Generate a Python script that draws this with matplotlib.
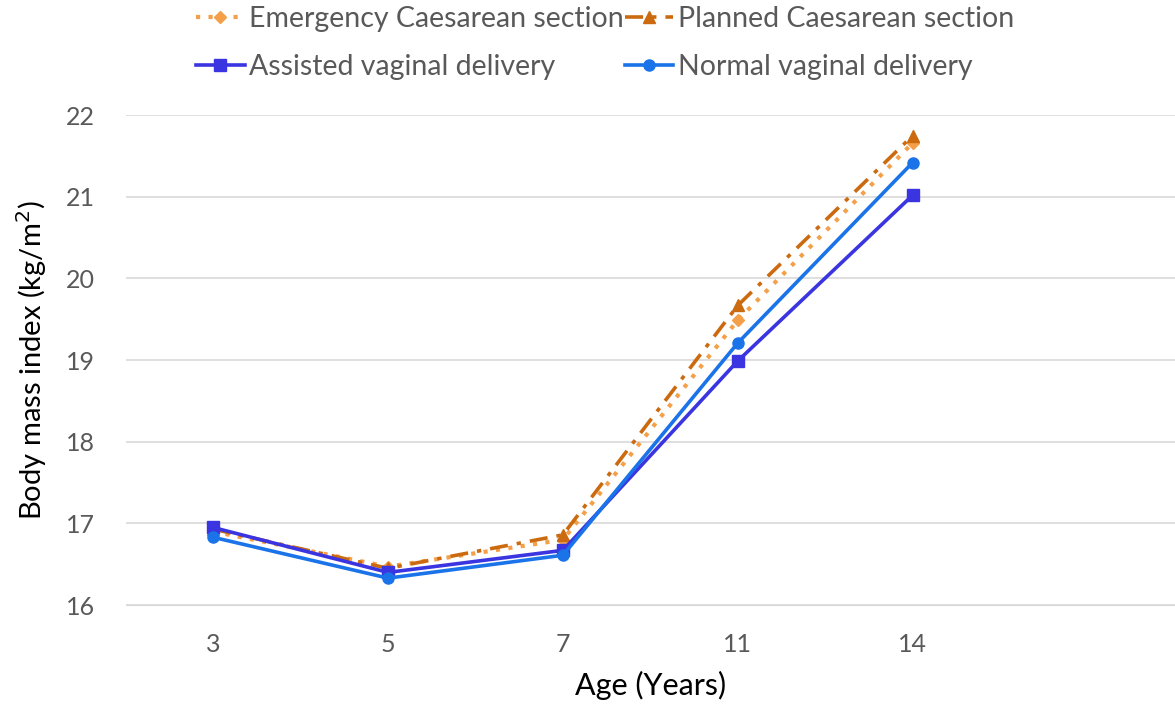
import matplotlib
matplotlib.use("Agg")
import matplotlib.pyplot as plt

plt.rcParams["font.family"] = ["Lato", "DejaVu Sans"]

ages = ["3", "5", "7", "11", "14"]
emergency = [16.90, 16.47, 16.80, 19.49, 21.66]
planned = [16.93, 16.45, 16.86, 19.67, 21.75]
assisted = [16.95, 16.40, 16.67, 18.99, 21.02]
normal = [16.83, 16.33, 16.61, 19.21, 21.42]

TEXT = "#595959"

fig = plt.figure(figsize=(11.75, 7.11), dpi=100)
ax = fig.add_axes([0.107, 0.149, 0.893, 0.689])
x = list(range(len(ages)))

# ordine pensato per la legenda a due colonne (riempita per colonne)
l1, = ax.plot(x, emergency, color="#f4a04a", ls=(0, (1, 2)), lw=3, marker="D", ms=6, zorder=3)
l3, = ax.plot(x, assisted, color="#3a35e0", ls="-", lw=2.6, marker="s", ms=8, zorder=4)
l2, = ax.plot(x, planned, color="#cc6a10", ls=(0, (5, 2.5, 1.2, 2.5)), lw=2.6, marker="^", ms=9, zorder=3)
l4, = ax.plot(x, normal, color="#1a73e8", ls="-", lw=2.6, marker="o", ms=8, zorder=5)

ax.set_xlim(-0.5, 5.5)
ax.set_ylim(16, 22)
ax.set_xticks(x)
ax.set_xticklabels(ages)
ax.set_yticks(range(16, 23))
ax.grid(axis="y", color="#d9d9d9", lw=1.2)
ax.set_axisbelow(True)
for s in ["top", "right", "left"]:
    ax.spines[s].set_visible(False)
ax.spines["bottom"].set_color("#d9d9d9")
ax.tick_params(length=0, labelsize=18, colors=TEXT)
ax.tick_params(axis="y", pad=22)
ax.tick_params(axis="x", pad=20)

ax.set_xlabel("Age (Years)", fontsize=22, color="black")
ax.set_ylabel("Body mass index (kg/m$^2$)", fontsize=21, color="black")
ax.xaxis.set_label_coords(0.5, -0.135)
ax.yaxis.set_label_coords(-0.073, 0.5)

fig.legend([l1, l3, l2, l4],
           ["Emergency Caesarean section", "Assisted vaginal delivery",
            "Planned Caesarean section", "Normal vaginal delivery"],
           ncol=2, loc="upper center", bbox_to_anchor=(0.515, 1.015), frameon=False,
           fontsize=20.5, labelcolor=TEXT, handlelength=1.7, handletextpad=0.15,
           columnspacing=0.05, borderaxespad=0.2, labelspacing=0.75)

fig.savefig("out.png", dpi=100)
